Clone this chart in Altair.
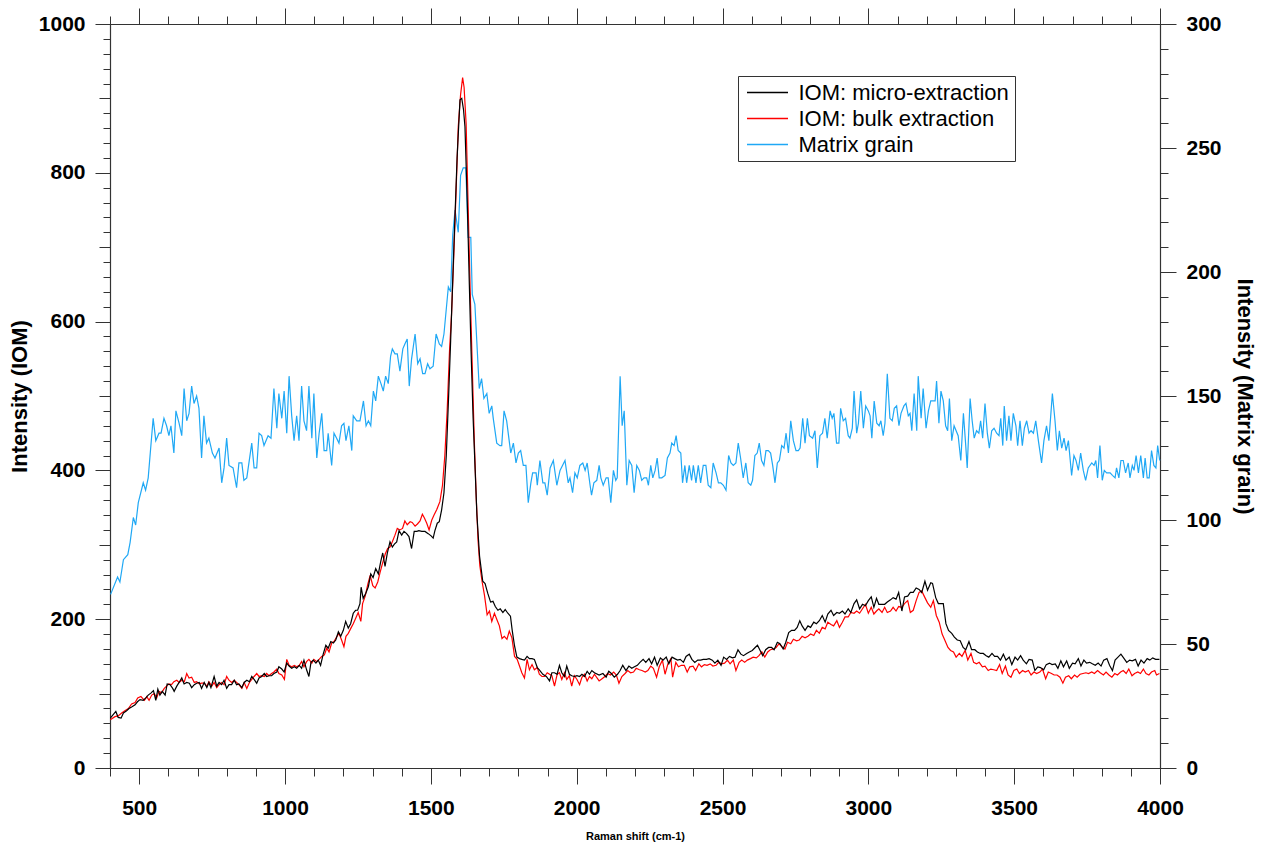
import altair as alt
import pandas as pd

FONT = "Liberation Sans"
SERIES = ["IOM: micro-extraction", "IOM: bulk extraction", "Matrix grain"]
COLORS = ["#000000", "#ff0000", "#1fa8f5"]

# ---------------- IOM: micro-extraction (left axis) ----------------
MICRO_X = [
    401, 420, 428, 438, 446, 457, 465, 474, 486, 494,
    503, 514, 522, 531, 541, 549, 557, 564, 571, 579,
    589, 596, 606, 615, 620, 629, 637, 646, 654, 663,
    672, 680, 689, 697, 706, 714, 723, 732, 739, 746,
    757, 766, 774, 783, 791, 800, 808, 817, 826, 834,
    842, 852, 860, 869, 878, 886, 894, 903, 911, 920,
    929, 937, 945, 954, 962, 972, 979, 989, 997, 1006,
    1014, 1023, 1032, 1040, 1049, 1057, 1065, 1074, 1082, 1089,
    1097, 1106, 1114, 1122, 1131, 1140, 1148, 1157, 1166, 1174,
    1183, 1191, 1200, 1208, 1217, 1225, 1234, 1242, 1249, 1257,
    1261, 1268, 1277, 1286, 1294, 1302, 1311, 1320, 1328, 1335,
    1343, 1351, 1360, 1368, 1375, 1383, 1391, 1400, 1408, 1417,
    1425, 1434, 1443, 1452, 1459, 1469, 1480, 1491, 1501, 1508,
    1514, 1522, 1529, 1537, 1545, 1553, 1561, 1568, 1579, 1590,
    1600, 1606, 1612, 1617, 1625, 1632, 1638, 1645, 1652, 1658,
    1667, 1678, 1686, 1695, 1705, 1713, 1721, 1730, 1738, 1747,
    1755, 1764, 1773, 1779, 1787, 1795, 1804, 1812, 1821, 1830,
    1838, 1847, 1855, 1865, 1872, 1884, 1896, 1907, 1915, 1924,
    1933, 1941, 1949, 1958, 1966, 1975, 1983, 1992, 2001, 2010,
    2018, 2027, 2036, 2044, 2052, 2061,
    2077, 2090, 2101, 2110, 2119, 2129, 2140, 2149, 2158, 2169,
    2179, 2189, 2198, 2208, 2217, 2228, 2237, 2248, 2257, 2267,
    2276, 2287, 2296, 2307, 2316, 2327, 2336, 2346, 2355, 2366,
    2375, 2386, 2395, 2405, 2415, 2425, 2434, 2445, 2454, 2465,
    2474, 2484, 2495, 2504, 2514, 2524, 2534, 2543, 2553, 2563,
    2572, 2583, 2592, 2602, 2612, 2620, 2629, 2638, 2648, 2658,
    2668, 2677, 2688, 2697, 2708, 2717, 2727, 2737, 2747, 2756,
    2765, 2773, 2783, 2793, 2802, 2813, 2822, 2832, 2842, 2852,
    2861, 2872, 2881, 2892, 2901, 2911, 2920, 2931, 2940, 2951,
    2960, 2970, 2980, 2990, 3000, 3010, 3019, 3028, 3036, 3047,
    3056, 3065, 3076, 3085, 3095, 3104, 3115, 3124, 3135, 3144,
    3154, 3164, 3174, 3183, 3194, 3203, 3214, 3220, 3231, 3240,
    3251, 3257, 3266, 3275, 3286, 3295, 3305, 3315, 3325, 3334,
    3345, 3354, 3365, 3374, 3384, 3394, 3404, 3413, 3424, 3433,
    3443, 3453, 3463, 3472, 3483, 3492, 3503, 3512, 3522, 3531,
    3542, 3551, 3562, 3571, 3581, 3590, 3601, 3610, 3621, 3630,
    3641, 3650, 3660, 3669, 3680, 3689, 3700, 3709, 3720, 3729,
    3739, 3748, 3759, 3768, 3778, 3788, 3798, 3807, 3818, 3827,
    3837, 3846, 3856, 3866, 3877, 3886, 3896, 3905, 3916, 3925,
    3935, 3945, 3956, 3965, 3975, 3985, 3998,
]
MICRO_Y = [
    67, 76, 68, 67, 74, 77, 80, 82, 85, 89,
    92, 91, 94, 98, 101, 104, 91, 106, 98, 103,
    98, 113, 112, 107, 103, 110, 115, 121, 113, 115,
    114, 108, 112, 114, 115, 107, 115, 108, 115, 108,
    123, 110, 115, 112, 118, 107, 112, 112, 118, 112,
    113, 108, 115, 118, 116, 123, 119, 114, 121, 123,
    127, 123, 124, 124, 127, 129, 136, 133, 129, 141,
    137, 134, 136, 134, 138, 134, 145, 132, 123, 142,
    145, 141, 145, 138, 153, 165, 161, 170, 168, 172,
    183, 177, 185, 197, 188, 194, 208, 212, 212, 221,
    243, 228, 235, 244, 261, 256, 268, 261, 277, 289,
    271, 289, 304, 297, 301, 304, 319, 313, 318, 315,
    311, 295, 318, 318, 319, 318, 318, 315, 312, 309,
    319, 329, 331, 347, 370, 420, 500, 575, 700, 820,
    898, 900, 885, 862, 760, 650, 560, 470, 400, 340,
    285, 251, 248, 235, 223, 224, 217, 212, 214, 209,
    213, 208, 204, 185, 164, 149, 147, 146, 145, 150,
    147, 147, 146, 135, 132, 126, 123, 117, 128, 128,
    126, 138, 128, 123, 137, 126, 124, 123, 124, 123,
    126, 123, 130, 126, 131, 128,
    125, 127, 122, 130, 127, 122, 126, 131, 138, 131,
    137, 134, 136, 138, 142, 146, 142, 147, 140, 149,
    138, 148, 145, 149, 140, 149, 147, 145, 146, 142,
    150, 153, 146, 142, 145, 145, 146, 146, 147, 145,
    141, 145, 138, 149, 146, 150, 148, 149, 159, 153,
    151, 154, 156, 158, 162, 165, 158, 151, 159, 162,
    162, 159, 169, 167, 160, 169, 182, 185, 185, 189,
    198, 191, 185, 191, 189, 196, 194, 198, 205, 196,
    207, 212, 205, 209, 208, 211, 207, 214, 209, 221,
    226, 214, 220, 218, 225, 230, 216, 228, 220, 220,
    220, 223, 226, 229, 227, 236, 211, 230, 231, 236,
    236, 242, 240, 236, 251, 239, 249, 248, 229, 221,
    221, 221, 194, 185, 181, 176, 172, 171, 162, 159,
    170, 159, 159, 156, 154, 154, 151, 149, 154, 150,
    150, 145, 153, 145, 149, 139, 149, 145, 151, 145,
    140, 146, 145, 131, 136, 135, 132, 139, 141, 139,
    140, 134, 144, 136, 144, 134, 141, 140, 147, 137,
    145, 141, 142, 140, 138, 141, 137, 145, 147, 138,
    131, 145, 149, 153, 147, 142, 145, 144, 146, 137,
    145, 141, 147, 145, 148, 146, 146,
]

# ---------------- IOM: bulk extraction (left axis) ----------------
BULK_X = [
    401, 417, 428, 440, 451, 463, 474, 486, 495, 506,
    518, 526, 534, 543, 552, 560, 568, 577, 586, 594,
    602, 611, 619, 629, 637, 646, 655, 663, 671, 680,
    689, 697, 706, 714, 723, 732, 739, 749, 757, 766,
    774, 783, 791, 800, 808, 817, 826, 834, 842, 852,
    860, 869, 878, 886, 894, 903, 911, 920, 929, 937,
    945, 954, 962, 972, 979, 989, 998, 1006, 1014, 1023,
    1032, 1040, 1049, 1057, 1065, 1074, 1082, 1092, 1099, 1109,
    1117, 1126, 1135, 1143, 1151, 1160, 1168, 1177, 1185, 1194,
    1202, 1209, 1217, 1226, 1234, 1242, 1251, 1260, 1266, 1275,
    1284, 1292, 1301, 1309, 1318, 1326, 1335, 1344, 1352, 1360,
    1368, 1377, 1385, 1394, 1403, 1411, 1419, 1429, 1436, 1446,
    1454, 1463, 1471, 1478, 1486, 1494, 1503, 1511, 1520, 1531,
    1540, 1548, 1556, 1564, 1571, 1579, 1587, 1594, 1602, 1609,
    1614, 1621, 1628, 1635, 1642, 1649, 1656, 1662, 1668, 1676,
    1684, 1693, 1701, 1709, 1718, 1727, 1735, 1744, 1752, 1761,
    1769, 1778, 1787, 1796, 1804, 1812, 1821, 1830, 1838, 1847,
    1855, 1865, 1872, 1881, 1890, 1899, 1907, 1915, 1924, 1933,
    1941, 1949, 1958, 1966, 1975, 1983, 1992, 2001, 2010, 2018,
    2027, 2036, 2044, 2052, 2061,
    2077, 2087, 2097, 2106, 2116, 2127, 2136, 2145, 2155, 2166,
    2175, 2185, 2195, 2204, 2215, 2224, 2235, 2244, 2254, 2263,
    2274, 2283, 2294, 2303, 2313, 2323, 2329, 2340, 2349, 2359,
    2369, 2379, 2388, 2399, 2408, 2419, 2428, 2438, 2447, 2458,
    2467, 2478, 2487, 2497, 2507, 2517, 2526, 2537, 2546, 2557,
    2566, 2576, 2585, 2596, 2605, 2616, 2625, 2635, 2645, 2655,
    2664, 2675, 2684, 2694, 2704, 2714, 2723, 2734, 2743, 2754,
    2763, 2773, 2783, 2793, 2802, 2813, 2822, 2832, 2842, 2852,
    2861, 2872, 2881, 2892, 2901, 2911, 2920, 2931, 2940, 2951,
    2960, 2970, 2980, 2990, 3000, 3010, 3019, 3028, 3036, 3047,
    3056, 3065, 3076, 3085, 3095, 3104, 3115, 3124, 3135, 3144,
    3154, 3164, 3174, 3183, 3194, 3203, 3214, 3223, 3233, 3243,
    3253, 3262, 3273, 3282, 3292, 3301, 3312, 3321, 3332, 3341,
    3352, 3361, 3371, 3380, 3391, 3400, 3411, 3420, 3430, 3440,
    3450, 3459, 3470, 3479, 3489, 3499, 3509, 3518, 3529, 3538,
    3549, 3558, 3568, 3577, 3588, 3597, 3608, 3617, 3628, 3637,
    3647, 3657, 3667, 3676, 3687, 3696, 3707, 3716, 3726, 3736,
    3746, 3755, 3766, 3775, 3786, 3795, 3806, 3815, 3825, 3835,
    3845, 3854, 3865, 3874, 3884, 3893, 3904, 3913, 3924, 3933,
    3943, 3952, 3962, 3971, 3982, 3988, 3998,
]
BULK_Y = [
    65, 69, 70, 74, 77, 80, 86, 88, 94, 96,
    91, 96, 91, 98, 100, 94, 103, 101, 107, 110,
    113, 112, 116, 118, 115, 118, 116, 127, 121, 122,
    115, 116, 113, 114, 114, 110, 116, 110, 115, 108,
    112, 115, 112, 123, 118, 115, 118, 115, 112, 107,
    115, 107, 115, 119, 123, 127, 123, 124, 123, 127,
    124, 127, 129, 133, 127, 125, 119, 146, 138, 136,
    138, 136, 138, 143, 136, 143, 146, 141, 146, 143,
    146, 150, 152, 161, 156, 168, 170, 176, 181, 172,
    163, 177, 181, 188, 194, 201, 209, 197, 221, 231,
    247, 259, 245, 242, 250, 263, 276, 288, 295, 297,
    304, 313, 322, 320, 322, 332, 327, 331, 330, 325,
    328, 332, 341, 336, 329, 320, 333, 340, 347, 358,
    380, 420, 480, 560, 610, 692, 780, 862, 905, 928,
    915, 866, 754, 640, 540, 440, 360, 305, 272, 250,
    232, 206, 211, 197, 208, 199, 191, 174, 177, 173,
    184, 175, 150, 146, 137, 128, 121, 146, 132, 139,
    132, 135, 126, 123, 123, 128, 126, 124, 110, 126,
    128, 119, 128, 119, 124, 110, 124, 119, 112, 122,
    126, 117, 123, 120, 126,
    117, 120, 123, 127, 125, 129, 125, 114, 123, 127,
    131, 128, 129, 134, 132, 131, 129, 131, 137, 134,
    122, 136, 145, 126, 140, 147, 122, 142, 136, 138,
    138, 129, 136, 137, 131, 140, 136, 139, 138, 140,
    137, 138, 142, 140, 141, 145, 140, 145, 131, 142,
    145, 142, 145, 147, 149, 148, 151, 156, 149, 156,
    159, 160, 162, 167, 163, 160, 169, 167, 173, 171,
    172, 177, 175, 177, 180, 178, 185, 181, 189, 187,
    196, 193, 191, 198, 189, 196, 203, 203, 209, 208,
    211, 208, 214, 220, 208, 216, 207, 211, 214, 209,
    216, 209, 211, 216, 211, 217, 216, 221, 225, 209,
    212, 225, 236, 238, 229, 222, 216, 225, 205, 196,
    180, 172, 162, 158, 156, 149, 154, 150, 158, 145,
    154, 142, 140, 142, 136, 137, 131, 133, 132, 131,
    139, 127, 137, 125, 122, 131, 133, 127, 131, 129,
    131, 125, 129, 127, 129, 133, 120, 129, 127, 125,
    125, 122, 114, 122, 124, 120, 125, 122, 126, 127,
    128, 127, 129, 127, 131, 128, 125, 129, 125, 122,
    127, 125, 129, 131, 127, 133, 124, 127, 129, 127,
    133, 127, 125, 129, 131, 125, 127,
]

# ---------------- Matrix grain (right axis) ----------------
MATRIX_X = [
    402, 426, 434, 446, 461, 469, 480, 488, 497, 514,
    522, 531, 548, 557, 568, 575, 585, 594, 602, 609,
    619, 626, 637, 646, 654, 663, 671, 680, 688, 697,
    705, 714, 722, 731, 739, 751, 760, 774, 783, 791,
    800, 808, 822, 834, 842, 852, 859, 869, 886, 894,
    903, 911, 920, 928, 942, 952, 962, 972, 979, 989,
    997, 1006, 1014, 1023, 1031, 1040, 1048, 1057, 1065, 1074,
    1082, 1092, 1099, 1109, 1117, 1126, 1134, 1143, 1148, 1160,
    1168, 1177, 1185, 1194, 1202, 1209, 1219, 1229, 1234, 1246,
    1257, 1269, 1278, 1286, 1294, 1303, 1311, 1320, 1329, 1337,
    1345, 1354, 1362, 1368, 1377, 1385, 1394, 1404, 1411, 1419,
    1426, 1434, 1446, 1455, 1463, 1472, 1480, 1489,
    1497, 1508, 1518, 1529, 1537, 1545, 1560, 1568, 1575, 1583,
    1594, 1602, 1611, 1620, 1628, 1637, 1642, 1651, 1666, 1674,
    1682, 1692, 1700, 1709, 1714, 1726, 1737, 1743, 1751, 1760,
    1774, 1783, 1792, 1800, 1808, 1817, 1826, 1834, 1843, 1849,
    1861, 1865, 1874, 1884, 1891, 1899, 1909, 1920, 1932, 1943,
    1960, 1971, 1977, 1986, 1994, 2002, 2011, 2021, 2029, 2036,
    2046, 2051, 2059, 2069, 2077, 2083, 2091, 2101, 2108, 2117,
    2126, 2134, 2139, 2149, 2156, 2163, 2172, 2180, 2189, 2197,
    2206, 2215, 2223, 2231, 2240, 2246, 2254, 2261, 2269, 2276,
    2283, 2292, 2303, 2311, 2320, 2326, 2334, 2341, 2348, 2357,
    2363, 2371, 2377, 2386, 2394, 2400, 2409, 2417, 2425, 2434,
    2443, 2451, 2460, 2468, 2478, 2486, 2494, 2503, 2512, 2521,
    2529, 2537, 2546, 2554, 2562, 2571, 2580, 2588, 2597, 2603,
    2611, 2619, 2626, 2634, 2642, 2649, 2657, 2665, 2672, 2680,
    2688, 2695, 2703, 2711, 2718, 2726, 2734, 2743, 2752, 2760,
    2766, 2775, 2783, 2791, 2798, 2809, 2817, 2825, 2834, 2843,
    2851, 2859, 2869, 2876, 2882, 2891, 2899, 2905, 2914, 2922,
    2931, 2937, 2945, 2951, 2960, 2966, 2974, 2983, 2991, 3000,
    3006, 3012, 3020, 3029, 3037, 3043, 3051, 3057, 3065, 3074,
    3082, 3089, 3097, 3105, 3112, 3122, 3129, 3137, 3143, 3149,
    3157, 3166, 3171, 3181, 3188, 3198, 3206, 3214, 3223, 3229,
    3234, 3242, 3249, 3257, 3265, 3272, 3278, 3286, 3294, 3301,
    3308, 3317, 3326, 3334, 3339, 3349, 3356, 3363, 3371, 3379,
    3385, 3392, 3400, 3408, 3415, 3423, 3431, 3440, 3448, 3454,
    3461, 3466, 3474, 3482, 3489, 3497, 3506, 3512, 3520, 3528,
    3535, 3543, 3551, 3558, 3566, 3574, 3583, 3594, 3602, 3611,
    3619, 3631, 3640, 3648, 3655, 3663, 3671, 3678, 3686, 3697,
    3705, 3712, 3720, 3728, 3737, 3745, 3754, 3766, 3774, 3780,
    3786, 3794, 3802, 3809, 3817, 3829, 3837, 3846, 3851, 3859,
    3866, 3874, 3882, 3891, 3897, 3905, 3911, 3918, 3926, 3934,
    3943, 3949, 3956, 3963, 3971, 3979, 3986, 3992, 3999,
]
MATRIX_Y = [
    70, 77, 75, 84, 86, 91, 101, 98, 107, 115,
    112, 117, 141, 132, 135, 135, 141, 138, 134, 138,
    127, 144, 139, 134, 153, 140, 143, 154, 147, 150,
    145, 125, 142, 131, 133, 127, 125, 129, 115, 121,
    133, 122, 121, 113, 123, 123, 116, 117, 131, 121,
    121, 135, 134, 130, 134, 133, 153, 137, 151, 141,
    152, 135, 158, 142, 132, 142, 132, 154, 140, 136,
    154, 133, 151, 125, 135, 143, 128, 128, 135, 122,
    135, 133, 131, 138, 139, 132, 138, 128, 142, 140,
    140, 148, 138, 140, 138, 152, 148, 158, 155, 152,
    158, 155, 166, 169, 167, 167, 160, 169, 171, 173,
    154, 165, 175, 163, 165, 159, 159, 163,
    161, 162, 175, 171, 170, 175, 194, 192, 215, 225,
    216, 239, 242, 242, 214, 214, 191, 187, 153, 157,
    149, 151, 143, 146, 141, 131, 130, 130, 144, 140,
    127, 131, 123, 127, 128, 122, 122, 107, 115, 119,
    119, 114, 124, 115, 115, 110, 121, 124, 114, 120,
    124, 115, 117, 111, 119, 117, 122, 123, 120, 123,
    114, 110, 115, 116, 122, 117, 114, 117, 117, 107,
    120, 116, 117, 158, 138, 144, 114, 124, 122, 111,
    122, 120, 116, 117, 117, 114, 122, 117, 120, 125,
    117, 117, 118, 125, 127, 131, 130, 134, 128, 127,
    115, 122, 115, 122, 116, 122, 115, 122, 115, 122,
    122, 114, 113, 123, 119, 115, 115, 114, 112, 126,
    123, 122, 123, 131, 125, 117, 123, 115, 114, 116,
    126, 127, 131, 124, 122, 128, 128, 127, 122, 115,
    123, 124, 130, 129, 135, 127, 140, 132, 128, 128,
    129, 141, 131, 141, 134, 133, 136, 121, 134, 135,
    141, 133, 144, 141, 143, 131, 131, 145, 140, 141,
    134, 133, 137, 152, 135, 139, 152, 137, 146, 144,
    142, 133, 148, 139, 138, 140, 134, 139, 159, 141,
    140, 145, 146, 138, 143, 146, 147, 142, 143, 136,
    151, 136, 158, 141, 153, 137, 144, 148, 148, 148,
    156, 139, 152, 148, 138, 136, 149, 132, 138, 136,
    134, 124, 143, 130, 121, 149, 140, 133, 136, 135,
    140, 133, 147, 135, 129, 136, 137, 135, 134, 141,
    130, 146, 132, 142, 132, 143, 138, 130, 140, 130,
    137, 140, 135, 136, 135, 140, 132, 123, 132, 138,
    132, 151, 140, 128, 136, 129, 133, 128, 132, 118,
    126, 124, 120, 127, 120, 116, 121, 123, 122, 124,
    117, 130, 116, 120, 119, 119, 118, 117, 121, 117,
    124, 124, 119, 123, 117, 122, 120, 126, 119, 126,
    117, 125, 117, 117, 128, 122, 121, 130, 124,
]

X_MAJOR = [500, 1000, 1500, 2000, 2500, 3000, 3500, 4000]
X_MINOR = list(range(400, 4001, 100))
YL_MAJOR = [0, 200, 400, 600, 800, 1000]
YL_MID = list(range(0, 1001, 100))
YL_MINOR = list(range(0, 1001, 20))
YR_MAJOR = [0, 50, 100, 150, 200, 250, 300]
YR_MINOR = list(range(0, 301, 10))


def frame(xs, ys, name):
    return pd.DataFrame([{"x": a, "y": b, "series": name} for a, b in zip(xs, ys)])


micro_df = frame(MICRO_X, MICRO_Y, SERIES[0])
bulk_df = frame(BULK_X, BULK_Y, SERIES[1])
matrix_df = frame(MATRIX_X, MATRIX_Y, SERIES[2])

AX_COLOR = "#333333"
x_scale = alt.Scale(domain=[400, 4000], nice=False, zero=False)
yl_scale = alt.Scale(domain=[0, 1000], nice=False)
yr_scale = alt.Scale(domain=[0, 300], nice=False)
color = alt.Color(
    "series:N",
    scale=alt.Scale(domain=SERIES, range=COLORS),
    legend=alt.Legend(
        title=None, orient="none", legendX=628, legendY=52,
        symbolType="M-0.75,0H3.35", symbolSize=400, symbolStrokeWidth=1.5,
        labelFont=FONT, labelFontSize=22, labelColor="black", labelOffset=33,
        rowPadding=4, padding=5.5, strokeColor=AX_COLOR, fillColor="white",
        cornerRadius=0, labelLimit=400,
    ),
)


def axis(orient, values, tick, labels=False, domain=False, **kw):
    base = dict(
        orient=orient, values=values, tickSize=tick, labels=labels, domain=domain,
        grid=False, ticks=True, tickColor=AX_COLOR, tickWidth=1, domainColor=AX_COLOR,
        domainWidth=1.2, labelFont=FONT, labelFontSize=21, labelFontWeight="bold",
        labelColor="black", labelFlush=False, labelOverlap=False, format="d",
        titleFont=FONT, titleFontWeight="bold", titleColor="black", title=None,
    )
    base.update(kw)
    return alt.Axis(**base)


blue = alt.Chart(matrix_df).mark_line(strokeWidth=1.2).encode(
    x=alt.X("x:Q", scale=x_scale, axis=None),
    y=alt.Y("y:Q", scale=yr_scale,
            axis=axis("right", YR_MAJOR, 16, labels=True, domain=True, labelPadding=10,
                      title="Intensity (Matrix grain)", titleFontSize=22, titlePadding=11)),
    color=color,
)
red = alt.Chart(bulk_df).mark_line(strokeWidth=1.2).encode(
    x=alt.X("x:Q", scale=x_scale, axis=None),
    y=alt.Y("y:Q", scale=yl_scale, axis=None),
    color=color,
)
black = alt.Chart(micro_df).mark_line(strokeWidth=1.2).encode(
    x=alt.X("x:Q", scale=x_scale,
            axis=axis("bottom", X_MAJOR, 16, labels=True, domain=True, labelPadding=13,
                      title="Raman shift (cm-1)", titleFontSize=11, titlePadding=12)),
    y=alt.Y("y:Q", scale=yl_scale,
            axis=axis("left", YL_MAJOR, 15, labels=True, domain=True, labelPadding=10,
                      title="Intensity (IOM)", titleFontSize=22, titlePadding=7)),
    color=color,
)
ax1 = alt.Chart(micro_df).mark_line(opacity=0).encode(
    x=alt.X("x:Q", scale=x_scale, axis=axis("bottom", X_MINOR, 8)),
    y=alt.Y("y:Q", scale=yl_scale, axis=axis("left", YL_MINOR, 7)),
)
ax2 = alt.Chart(micro_df).mark_line(opacity=0).encode(
    x=alt.X("x:Q", scale=x_scale, axis=axis("top", X_MAJOR, 16, domain=True)),
    y=alt.Y("y:Q", scale=yl_scale, axis=axis("left", YL_MID, 11)),
)
ax3 = alt.Chart(matrix_df).mark_line(opacity=0).encode(
    x=alt.X("x:Q", scale=x_scale, axis=axis("top", X_MINOR, 8)),
    y=alt.Y("y:Q", scale=yr_scale, axis=axis("right", YR_MINOR, 8)),
)

chart = (
    alt.layer(blue, red, black, ax1, ax2, ax3)
    .resolve_scale(x="independent", y="independent")
    .properties(
        width=1050, height=744,
        autosize=alt.AutoSizeParams(type="none"),
        padding={"left": 102, "top": 16, "right": 98, "bottom": 80},
        background="white",
    )
    .configure_view(stroke=None)
)

chart.save("out.html", embed_options={"renderer": "svg", "actions": False})
